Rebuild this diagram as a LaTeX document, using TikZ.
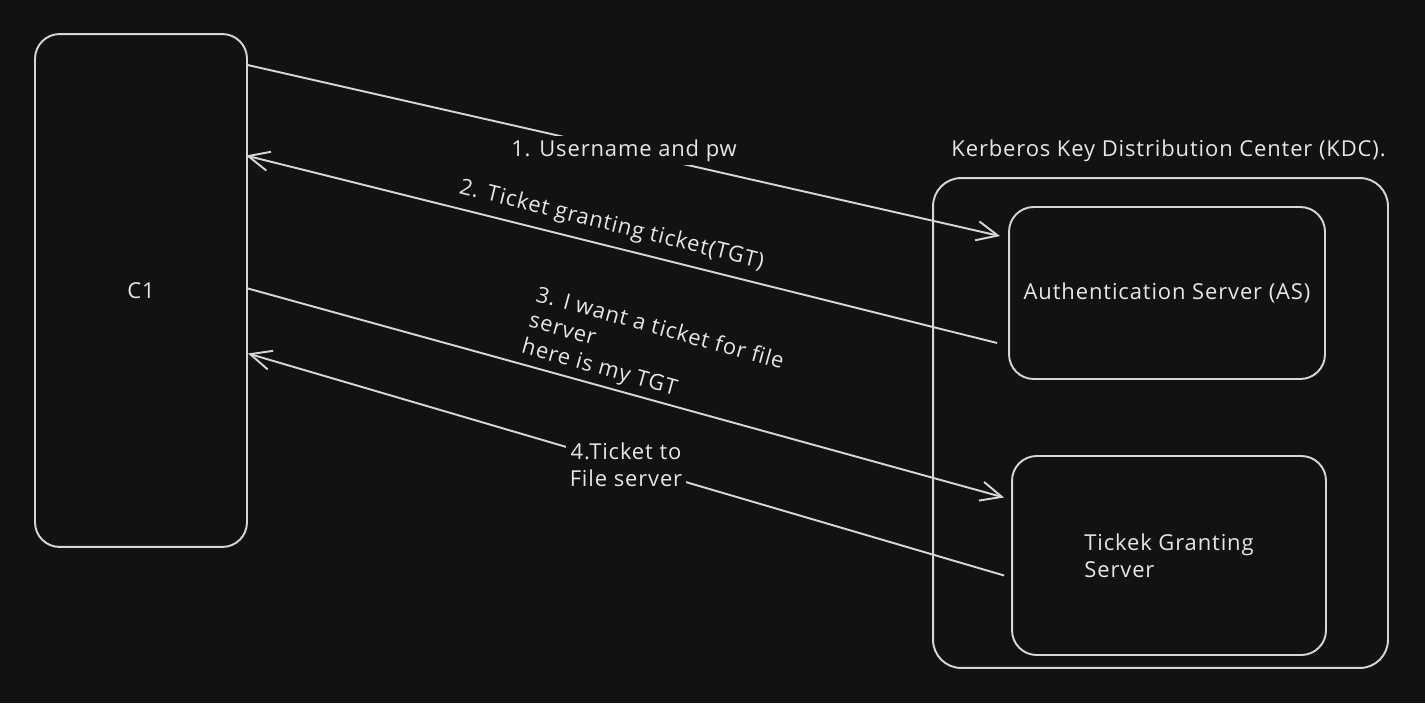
\documentclass[tikz,border=0pt]{standalone}
\usepackage{fontspec}
\setmainfont{Open Sans}[LetterSpace=4]
\usepackage{xcolor}
\usepackage{tikz}
\definecolor{bgdark}{HTML}{121212}
\definecolor{inkline}{HTML}{D6D6D6}
\definecolor{inktext}{HTML}{E6E6E6}
\usetikzlibrary{arrows.meta, positioning, calc}

\begin{document}
\begin{tikzpicture}[
    x=0.02cm, y=-0.02cm,
    every node/.style={font=\fontsize{12.5}{15.3}\selectfont, text=inktext},
    box/.style={draw=inkline, line width=1.1pt, rounded corners=14pt},
    arr/.style={draw=inkline, line width=1.1pt,
                -{Straight Barb[length=12pt, width=11pt, line width=1.1pt]}},
    lbl/.style={fill=bgdark, inner sep=2pt, align=center},
    tilted/.style={sloped, align=left, inner sep=1pt},
]
% --- Canvas (one unit = one pixel of the sketch) ---
\fill[bgdark] (0,0) rectangle (1425,703);

% --- Client and KDC boxes ---
\node[box, minimum width=4.24cm, minimum height=10.26cm] (c1) at (141,290.5) {C1};
\node[box, rounded corners=16pt, minimum width=9.1cm, minimum height=9.8cm]
    (kdc) at (1160.5,423) {};
\node[box, minimum width=6.32cm, minimum height=3.44cm]
    (as) at (1167,293) {Authentication Server (AS)};
\node[box, minimum width=6.28cm, minimum height=3.98cm, align=left]
    (tgs) at (1169,555.5) {Tickek Granting\\Server};

\node (kdclbl) at ($(kdc.north)+(8,-26)$) {Kerberos Key Distribution Center (KDC).};

% --- Message flow between client and KDC ---
\draw[arr] ($(c1.north east)+(0,32)$)
    -- node[lbl] (m1) {1. Username and pw}
    ($(as.north west)+(-8,30)$);
\draw[arr] ($(as.west)+(-11,50)$)
    -- node[tilted, above=4pt, pos=0.52] (m2) {2. Ticket granting ticket(TGT)}
    ($(c1.east)+(-2,-135)$);
\draw[arr] ($(c1.east)+(0,-2)$)
    -- node[tilted, above=1.5pt, pos=0.52] (m3) {3. I want a ticket for file\\server\\here is my TGT}
    ($(tgs.west)+(-7,-58)$);
\draw[arr] ($(tgs.west)+(-7,20)$)
    -- node[lbl] (m4) {4.Ticket to\\File server}
    ($(c1.east)+(0,63)$);
\end{tikzpicture}
\end{document}
